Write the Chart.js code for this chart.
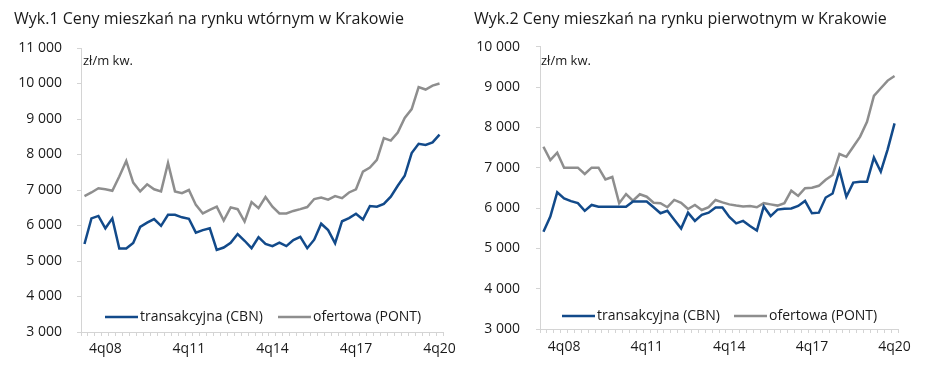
<!DOCTYPE html>
<html>
<head>
<meta charset="utf-8">
<script src="https://cdn.jsdelivr.net/npm/chart.js@4.4.1/dist/chart.umd.min.js"></script>
<style>
body { margin: 0; background: #fff; }
.box { position: absolute; top: 0; width: 469px; height: 376px; }
</style>
</head>
<body>
<div class="box" style="left:0"><canvas id="chart1"></canvas></div>
<div class="box" style="left:469px"><canvas id="chart2"></canvas></div>
<script>
// quarters 1q08 - 4q20
var quarters = [
    "1q08","2q08","3q08","4q08","1q09","2q09","3q09","4q09","1q10","2q10","3q10","4q10",
    "1q11","2q11","3q11","4q11","1q12","2q12","3q12","4q12","1q13","2q13","3q13","4q13",
    "1q14","2q14","3q14","4q14","1q15","2q15","3q15","4q15","1q16","2q16","3q16","4q16",
    "1q17","2q17","3q17","4q17","1q18","2q18","3q18","4q18","1q19","2q19","3q19","4q19",
    "1q20","2q20","3q20","4q20"
];

var seriesNames = ["transakcyjna (CBN)", "ofertowa (PONT)"];

// Wyk.1 - rynek wtorny (zl/m kw.)
var wtornyCBN = [
    5480, 6200, 6270, 5920, 6200, 5350, 5350, 5510, 5960, 6080, 6180, 5990,
    6300, 6300, 6230, 6190, 5800, 5870, 5920, 5310, 5380, 5510, 5760, 5570,
    5360, 5670, 5480, 5420, 5520, 5420, 5590, 5680, 5360, 5600, 6050, 5870,
    5500, 6120, 6210, 6330, 6170, 6550, 6530, 6610, 6810, 7120, 7400, 8040,
    8300, 8270, 8340, 8560
];
var wtornyPONT = [
    6830, 6930, 7050, 7020, 6980, 7380, 7820, 7210, 6960, 7160, 7020, 6960,
    7760, 6960, 6910, 7000, 6580, 6340, 6440, 6530, 6140, 6510, 6460, 6110,
    6660, 6490, 6800, 6530, 6340, 6340, 6410, 6460, 6520, 6745, 6790, 6730,
    6830, 6770, 6930, 7020, 7520, 7630, 7850, 8460, 8390, 8620, 9030, 9280,
    9900, 9830, 9940, 10000
];

// Wyk.2 - rynek pierwotny (zl/m kw.)
var pierwotnyCBN = [
    5410, 5790, 6390, 6240, 6170, 6120, 5930, 6075, 6030, 6030, 6030, 6030,
    6030, 6160, 6160, 6160, 6020, 5870, 5930, 5710, 5490, 5885, 5680, 5830,
    5885, 6015, 6015, 5780, 5620, 5680, 5555, 5440, 6040, 5800, 5960, 5980,
    5990, 6050, 6175, 5870, 5885, 6260, 6360, 6940, 6280, 6630, 6650, 6650,
    7250, 6900, 7455, 8100
];
var pierwotnyPONT = [
    7520, 7190, 7370, 7000, 7000, 7000, 6845, 7000, 7000, 6710, 6770, 6120,
    6345, 6180, 6340, 6280, 6130, 6120, 6020, 6200, 6130, 5975, 6075, 5950,
    6020, 6200, 6140, 6090, 6060, 6035, 6050, 6020, 6120, 6090, 6060, 6120,
    6430, 6300, 6490, 6505, 6550, 6700, 6820, 7340, 7270, 7520, 7770, 8140,
    8780, 8970, 9160, 9275
];

var FONT = "'Open Sans', sans-serif";
var TEXT = "#1a1a1a";
var AXIS = "#d4d4d4";
var BLUE = "#124a8a";
var GREY = "#8e8e8e";

// legend drawn inside the plot + unit label
var insideTexts = {
    id: "insideTexts",
    afterDraw: function(chart, args, opts) {
        var ctx = chart.ctx;
        ctx.save();
        ctx.textBaseline = "middle";
        ctx.textAlign = "left";
        ctx.fillStyle = TEXT;
        ctx.font = "13px " + FONT;
        ctx.fillText("zł/m kw.", opts.unitX, opts.unitY);

        ctx.font = "14px " + FONT;
        chart.data.datasets.forEach(function(ds, i) {
            var x = opts.legendX[i];
            ctx.strokeStyle = ds.borderColor;
            ctx.lineWidth = ds.borderWidth;
            ctx.beginPath();
            ctx.moveTo(x, opts.legendY);
            ctx.lineTo(x + 33, opts.legendY);
            ctx.stroke();
            ctx.fillStyle = TEXT;
            ctx.fillText(ds.label, x + 35, opts.legendY);
        });
        ctx.restore();
    }
};

function spaced(v) {
    return String(v).replace(/\B(?=(\d{3})+(?!\d))/g, " ");
}

function makeChart(id, title, cbn, pont, yMax, cfg) {
    return new Chart(document.getElementById(id), {
        type: "line",
        plugins: [insideTexts],
        data: {
            labels: quarters,
            datasets: [
                { label: seriesNames[0], data: cbn, borderColor: BLUE, borderWidth: 2.5, pointRadius: 0, tension: 0 },
                { label: seriesNames[1], data: pont, borderColor: GREY, borderWidth: 2.5, pointRadius: 0, tension: 0 }
            ]
        },
        options: {
            responsive: true,
            maintainAspectRatio: false,
            animation: false,
            layout: { padding: { left: cfg.padLeft, right: cfg.padRight, top: 0, bottom: 0 } },
            plugins: {
                legend: { display: false },
                tooltip: { enabled: false },
                title: {
                    display: true,
                    text: title,
                    align: "start",
                    color: TEXT,
                    font: { family: FONT, size: 16, weight: 500 },
                    padding: { top: 9.5, bottom: cfg.titleBottom }
                },
                insideTexts: cfg.texts
            },
            scales: {
                x: {
                    offset: true,
                    grid: { offset: true, drawOnChartArea: false, tickLength: 4, color: AXIS },
                    border: { color: AXIS },
                    ticks: {
                        autoSkip: false,
                        maxRotation: 0,
                        minRotation: 0,
                        padding: cfg.xPad,
                        color: TEXT,
                        font: { family: FONT, size: 14 },
                        callback: function(value, index) {
                            return index % 12 === 3 ? this.getLabelForValue(value) : "";
                        }
                    },
                    afterFit: function(scale) { scale.height = cfg.xHeight; }
                },
                y: {
                    min: 3000,
                    max: yMax,
                    grid: { drawOnChartArea: false, tickLength: 4, color: AXIS },
                    border: { color: AXIS },
                    ticks: {
                        stepSize: 1000,
                        padding: cfg.yPad,
                        color: TEXT,
                        font: { family: FONT, size: 14 },
                        callback: function(v) { return spaced(v); }
                    },
                    afterFit: function(scale) { scale.width = cfg.yWidth; }
                }
            }
        }
    });
}

makeChart("chart1", "Wyk.1 Ceny mieszkań na rynku wtórnym w Krakowie", wtornyCBN, wtornyPONT, 11000, {
    padLeft: 14, padRight: 26, titleBottom: 19.3, xHeight: 44, xPad: 5, yWidth: 67, yPad: 15,
    texts: { unitX: 83, unitY: 61, legendX: [105, 278], legendY: 317 }
});

makeChart("chart2", "Wyk.2 Ceny mieszkań na rynku pierwotnym w Krakowie", pierwotnyCBN, pierwotnyPONT, 10000, {
    padLeft: 5, padRight: 40, titleBottom: 18, xHeight: 47, xPad: 6, yWidth: 66, yPad: 16,
    texts: { unitX: 72, unitY: 61, legendX: [93, 265], legendY: 316 }
});
</script>
</body>
</html>
